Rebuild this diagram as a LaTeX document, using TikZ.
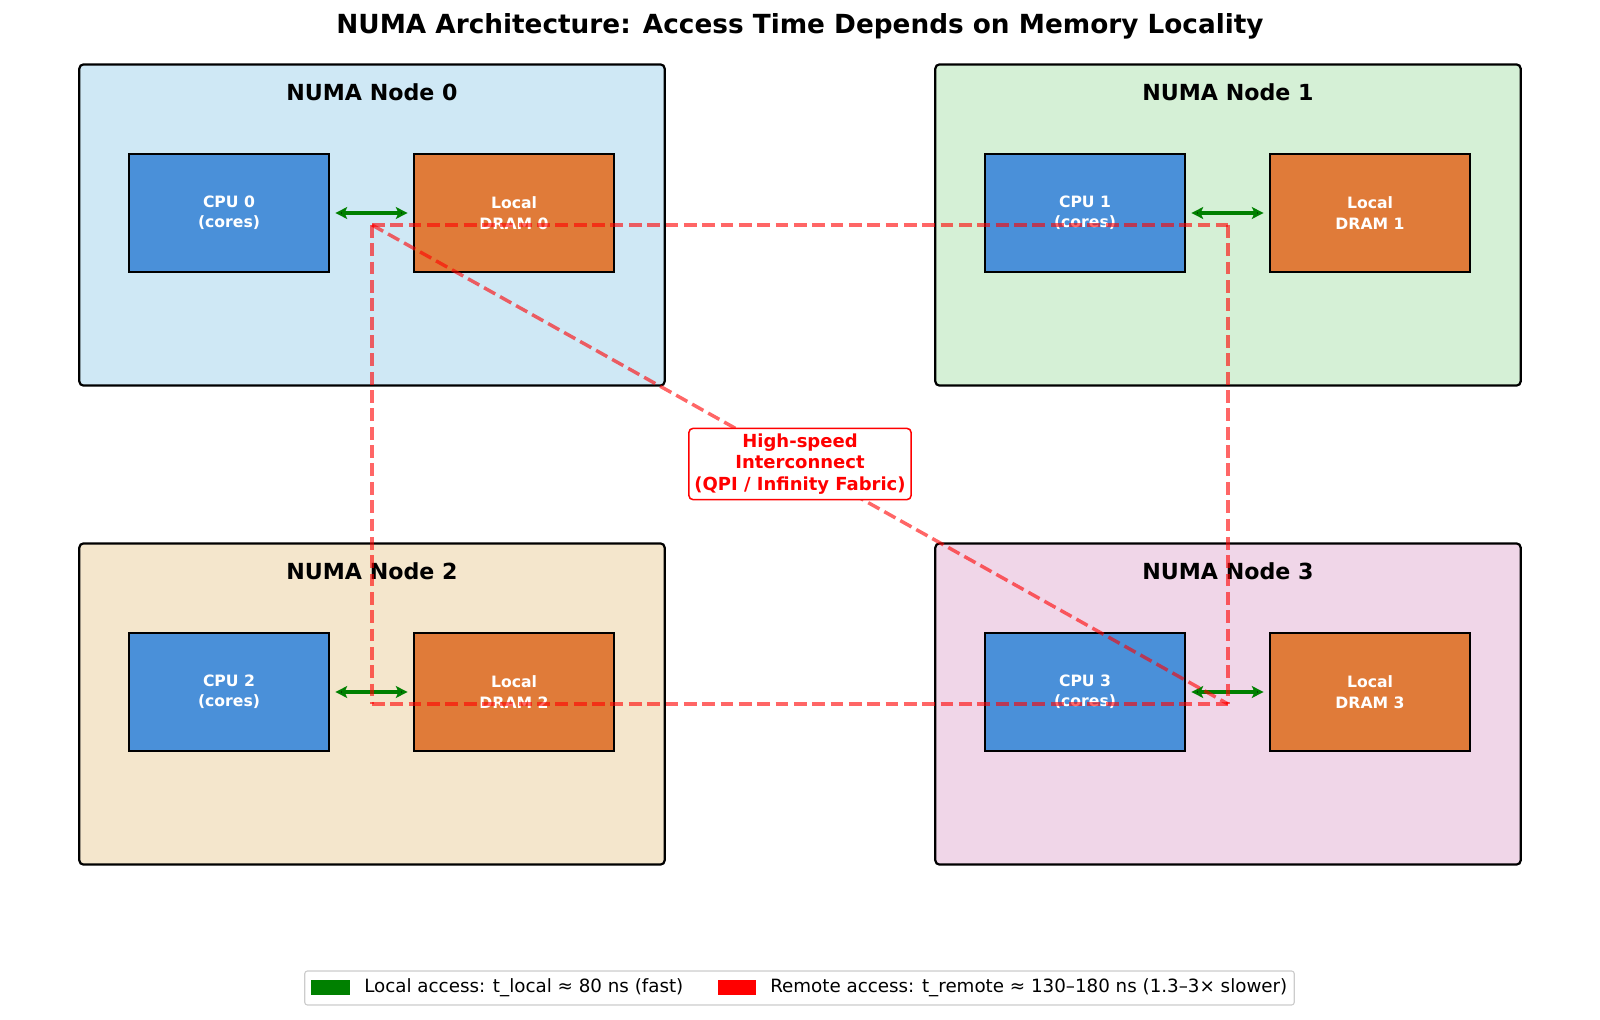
\documentclass[tikz,border=0pt]{standalone}
\usepackage{fontspec}
\setmainfont{DejaVu Sans}
\usepackage{xcolor}
\usepackage{tikz}
\usetikzlibrary{arrows.meta}

\definecolor{numaA}{RGB}{207,232,245}
\definecolor{numaB}{RGB}{213,240,214}
\definecolor{numaC}{RGB}{244,230,204}
\definecolor{numaD}{RGB}{240,214,232}
\definecolor{cpublue}{RGB}{74,144,217}
\definecolor{dramorange}{RGB}{224,123,57}
\definecolor{localgreen}{RGB}{0,128,0}
\definecolor{remotered}{RGB}{255,0,0}
\definecolor{legendgray}{RGB}{204,204,204}

\begin{document}
\begin{tikzpicture}[x=0.01in, y=-0.01in,
    numabox/.style={draw=black, line width=1.6pt, rounded corners=3pt, minimum width=5.85in, minimum height=3.21in, inner sep=0pt},
    numatitle/.style={font=\fontsize{16}{19}\selectfont\bfseries},
    unitbox/.style={draw=black, line width=1.1pt, minimum width=2in, minimum height=1.18in, inner sep=0pt, text=white, align=center, font=\fontsize{11.3}{14.7}\selectfont\bfseries},
    local/.style={draw=localgreen, line width=2.5pt, {Stealth[length=3mm,width=3mm,inset=0.7mm]}-{Stealth[length=3mm,width=3mm,inset=0.7mm]}, shorten <=4pt, shorten >=4pt},
    remote/.style={draw=remotered, draw opacity=0.6, line width=2.5pt, dash pattern=on 9.25pt off 4pt}]
    \useasboundingbox (0,0) rectangle (1600,1020);

    \node[font=\fontsize{19}{23}\selectfont\bfseries] (title) at (800,26) {NUMA Architecture: Access Time Depends on Memory Locality};

    % node 0
    \node[numabox, fill=numaA] (N0) at (372,225) {};
    \node[numatitle] (T0) at (372,92) {NUMA Node 0};
    \node[unitbox, fill=cpublue] (C0) at (229,213) {CPU 0\\(cores)};
    \node[unitbox, fill=dramorange] (D0) at (514,213) {Local\\DRAM 0};
    \path[local] (C0) edge (D0);

    % node 1
    \node[numabox, fill=numaB] (N1) at (1228,225) {};
    \node[numatitle] (T1) at (1228,92) {NUMA Node 1};
    \node[unitbox, fill=cpublue] (C1) at (1085,213) {CPU 1\\(cores)};
    \node[unitbox, fill=dramorange] (D1) at (1370,213) {Local\\DRAM 1};
    \path[local] (C1) edge (D1);

    % node 2
    \node[numabox, fill=numaC] (N2) at (372,704) {};
    \node[numatitle] (T2) at (372,571) {NUMA Node 2};
    \node[unitbox, fill=cpublue] (C2) at (229,692) {CPU 2\\(cores)};
    \node[unitbox, fill=dramorange] (D2) at (514,692) {Local\\DRAM 2};
    \path[local] (C2) edge (D2);

    % node 3
    \node[numabox, fill=numaD] (N3) at (1228,704) {};
    \node[numatitle] (T3) at (1228,571) {NUMA Node 3};
    \node[unitbox, fill=cpublue] (C3) at (1085,692) {CPU 3\\(cores)};
    \node[unitbox, fill=dramorange] (D3) at (1370,692) {Local\\DRAM 3};
    \path[local] (C3) edge (D3);

    % interconnect
    \path[remote] (N0.center) edge (N1.center);
    \path[remote] (N0.center) edge (N2.center);
    \path[remote] (N1.center) edge (N3.center);
    \path[remote] (N2.center) edge (N3.center);
    \path[remote] (N0.center) edge (N3.center);

    \node[draw=remotered, fill=white, line width=1.1pt, rounded corners=3pt, text=remotered, align=center, inner xsep=4pt, inner ysep=4pt, font=\fontsize{13}{15.4}\selectfont\bfseries] (L) at (800,464) {High-speed\\Interconnect\\(QPI / Infinity Fabric)};

    % legend
    \node[draw=legendgray, fill=white, line width=0.8pt, rounded corners=2pt, minimum width=9.89in, minimum height=0.34in] (K) at (799.5,988) {};
    \node[fill=localgreen, minimum width=0.39in, minimum height=0.15in, inner sep=0pt] (KL) at (330.5,987) {};
    \node[anchor=west, inner sep=0pt, font=\fontsize{13.2}{15}\selectfont] (KLt) at (364,988) {Local access: t\_local ≈ 80 ns (fast)};
    \node[fill=remotered, minimum width=0.38in, minimum height=0.15in, inner sep=0pt] (KR) at (737,987) {};
    \node[anchor=west, inner sep=0pt, font=\fontsize{13.2}{15}\selectfont] (KRt) at (770,988) {Remote access: t\_remote ≈ 130–180 ns (1.3–3× slower)};
\end{tikzpicture}
\end{document}
